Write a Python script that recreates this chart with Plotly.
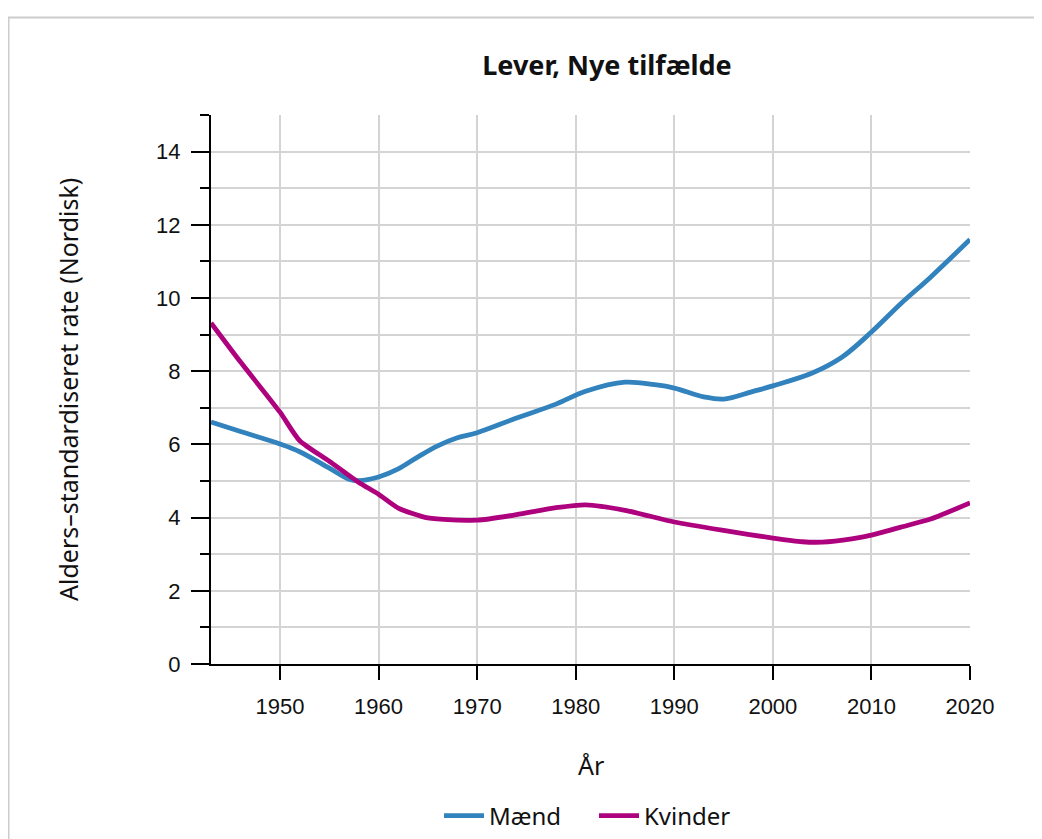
import plotly.graph_objects as go

# Data
maend_years = [1943, 1946, 1950, 1952, 1955, 1957, 1958, 1960, 1962, 1964, 1966, 1968, 1970,
               1974, 1978, 1981, 1985, 1988, 1990, 1993, 1995, 1998, 2000, 2004, 2007, 2010,
               2013, 2016, 2020]
maend_vals = [6.61, 6.35, 6.01, 5.80, 5.35, 5.05, 5.01, 5.11, 5.33, 5.66, 5.96, 6.18, 6.32,
              6.72, 7.10, 7.45, 7.70, 7.63, 7.54, 7.30, 7.24, 7.45, 7.60, 7.95, 8.38, 9.07,
              9.85, 10.57, 11.60]

kvinder_years = [1943, 1946, 1950, 1952, 1955, 1958, 1960, 1962, 1965, 1970, 1974, 1978, 1981,
                 1985, 1990, 1995, 2000, 2003, 2005, 2008, 2010, 2013, 2016, 2020]
kvinder_vals = [9.32, 8.25, 6.88, 6.10, 5.54, 4.96, 4.64, 4.26, 3.99, 3.93, 4.08, 4.27, 4.35,
                4.20, 3.88, 3.65, 3.44, 3.34, 3.33, 3.42, 3.52, 3.74, 3.96, 4.40]

x_ticks = [1950, 1960, 1970, 1980, 1990, 2000, 2010, 2020]
y_ticks = [0, 2, 4, 6, 8, 10, 12, 14]

title_text = "Lever, Nye tilfælde"
x_title = "År"
y_title = "Alders–standardiseret rate (Nordisk)"

blue = "#3182bd"
magenta = "#ae017e"
grid = "#d4d4d4"
txt_font = "Noto Sans"
tick_font = "Liberation Sans, Arial"

fig = go.Figure()
fig.add_trace(go.Scatter(x=maend_years, y=maend_vals, mode="lines", name="Mænd",
                         line=dict(color=blue, width=4.8, shape="spline", smoothing=1.0)))
fig.add_trace(go.Scatter(x=kvinder_years, y=kvinder_vals, mode="lines", name="Kvinder",
                         line=dict(color=magenta, width=4.8, shape="spline", smoothing=0.6)))

OFF = 8  # page body margin
W, H = 1042 - OFF, 839 - OFF
L, R, T, B = 211 - OFF, 72, 115 - OFF, 175
pw, ph = W - L - R, H - T - B


def px_x(p):
    return (p - OFF - L) / pw


def px_y(p):
    return (H - B - (p - OFF)) / ph


fig.update_layout(
    width=W, height=H,
    margin=dict(l=L, r=R, t=T, b=B),
    paper_bgcolor="white", plot_bgcolor="white",
    title=dict(text="<b>" + title_text + "</b>", x=(607 - OFF) / W, xanchor="center",
               y=1 - (66 - OFF) / H, yanchor="middle", yref="container",
               font=dict(family=txt_font, size=27, color="#111")),
    showlegend=True,
    legend=dict(orientation="h", x=(439 - OFF) / W, xanchor="left", xref="container",
                y=1 - (816 - OFF) / H, yanchor="middle", yref="container",
                font=dict(family=txt_font, size=24, color="#111"), itemwidth=40,
                entrywidth=100, entrywidthmode="pixels",
                bgcolor="rgba(0,0,0,0)"),
    xaxis=dict(range=[1943, 2020], tickvals=x_ticks, ticks="outside", ticklen=14,
               tickwidth=2, tickcolor="black", showline=True, linecolor="black", linewidth=2,
               showgrid=True, gridcolor=grid, gridwidth=1.5, zeroline=False,
               tickfont=dict(family=tick_font, size=22, color="#111"),
               ticklabelstandoff=8),
    yaxis=dict(range=[0, 15], tickvals=y_ticks, ticks="outside", ticklen=18,
               tickwidth=2, tickcolor="black", showline=True, linecolor="black", linewidth=2,
               showgrid=True, gridcolor=grid, gridwidth=1.5, zeroline=False,
               tickfont=dict(family=tick_font, size=22, color="#111"),
               ticklabelstandoff=6,
               minor=dict(dtick=1, tick0=0, ticks="outside", ticklen=9, tickwidth=2,
                          tickcolor="black", showgrid=True, gridcolor=grid, gridwidth=1.5)),
    annotations=[
        dict(text=x_title, xref="paper", yref="paper", x=0.5, y=px_y(765),
             xanchor="center", yanchor="middle", showarrow=False,
             font=dict(family=txt_font, size=25, color="#111")),
        dict(text=y_title, xref="paper", yref="paper", x=px_x(68), y=px_y(390),
             xanchor="center", yanchor="middle", textangle=-90, showarrow=False,
             font=dict(family=txt_font, size=25, color="#111")),
    ],
    shapes=[dict(type="rect", xref="paper", yref="paper",
                 x0=px_x(8.5), x1=px_x(1100), y0=px_y(900), y1=px_y(17.5),
                 line=dict(color="#cccccc", width=2), fillcolor="rgba(0,0,0,0)", layer="below")],
)

fig.write_html("out.html")
